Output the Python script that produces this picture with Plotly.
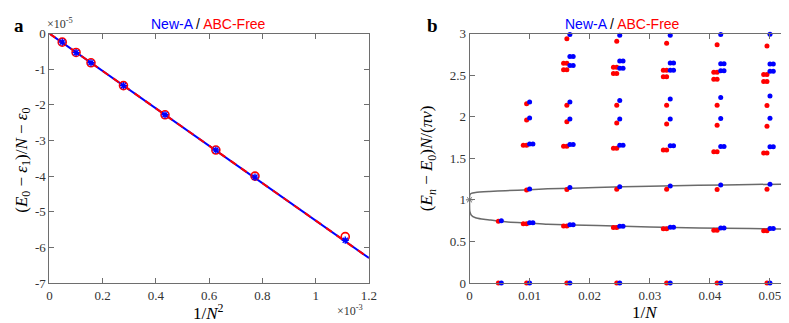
import plotly.graph_objects as go

# ---------------- Panel a data (x in 1e-3, y in 1e-5) ----------------
inv_N2 = [0.048, 0.100, 0.156, 0.278, 0.434, 0.625, 0.772, 1.111]
gap_newA = [-0.24, -0.535, -0.82, -1.46, -2.28, -3.27, -4.03, -5.80]
gap_abc = [-0.24, -0.53, -0.82, -1.46, -2.28, -3.27, -4.00, -5.70]
fit_x = [0.0, 1.2]
fit_y = [0.0, -6.30]
a_xticks = [0, 0.2, 0.4, 0.6, 0.8, 1.0, 1.2]
a_xticktext = ["0", "0.2", "0.4", "0.6", "0.8", "1", "1.2"]
a_yticks = [-7, -6, -5, -4, -3, -2, -1, 0]
a_yticktext = ["-7", "-6", "-5", "-4", "-3", "-2", "-1", "0"]

# ---------------- Panel b data ----------------
newA_x = [0.0053, 0.0100, 0.0167, 0.0250, 0.0334, 0.0418, 0.0500]
abc_x = [0.0048, 0.0095, 0.0162, 0.0245, 0.0328, 0.0412, 0.0495]
newA_single = [
    [0.0],
    [0.0, 1.130, 1.984, 2.176],
    [0.0, 1.147, 1.973, 2.176, 2.988],
    [0.0, 1.158, 1.973, 2.196, 2.981],
    [0.0, 1.165, 1.973, 2.212, 2.981],
    [0.0, 1.177, 1.977, 2.231, 2.988],
    [0.0, 1.188, 1.981, 2.250, 2.993],
]
newA_double = [
    [],
    [0.723, 1.672],
    [0.700, 1.666, 2.615, 2.723],
    [0.681, 1.657, 2.584, 2.669],
    [0.669, 1.650, 2.558, 2.645],
    [0.662, 1.643, 2.554, 2.638],
    [0.654, 1.638, 2.546, 2.635],
]
newA_extra = [[0.747], [], [], [], [], [], []]
abc_single = [
    [0.0],
    [0.0, 1.119, 1.961, 2.157],
    [0.0, 1.124, 1.938, 2.139, 2.938],
    [0.0, 1.127, 1.923, 2.139, 2.907],
    [0.0, 1.127, 1.912, 2.139, 2.884],
    [0.0, 1.124, 1.896, 2.139, 2.866],
    [0.0, 1.127, 1.885, 2.134, 2.850],
]
abc_double = [
    [],
    [0.712, 1.657],
    [0.685, 1.646, 2.566, 2.642],
    [0.666, 1.620, 2.519, 2.596],
    [0.651, 1.600, 2.481, 2.558],
    [0.635, 1.577, 2.450, 2.535],
    [0.628, 1.562, 2.423, 2.508],
]
abc_extra = [[0.743], [], [], [], [], [], []]

upper_x = [0.0, 0.0, 0.00005, 0.0003, 0.001, 0.0033, 0.006, 0.010, 0.013, 0.021, 0.030, 0.038, 0.047, 0.053]
upper_y = [1.0, 1.03, 1.060, 1.078, 1.088, 1.100, 1.110, 1.122, 1.132, 1.148, 1.164, 1.175, 1.184, 1.190]
lower_x = [0.0, 0.0, 0.00005, 0.0003, 0.001, 0.002, 0.0033, 0.006, 0.010, 0.013, 0.0213, 0.030, 0.0382, 0.0467, 0.053]
lower_y = [1.0, 0.95, 0.860, 0.815, 0.785, 0.770, 0.758, 0.735, 0.719, 0.705, 0.690, 0.673, 0.662, 0.654, 0.649]
limit_x = [0.0]
limit_y = [1.0]
b_xticks = [0, 0.01, 0.02, 0.03, 0.04, 0.05]
b_xticktext = ["0", "0.01", "0.02", "0.03", "0.04", "0.05"]
b_yticks = [0, 0.5, 1, 1.5, 2, 2.5, 3]
b_yticktext = ["0", "0.5", "1", "1.5", "2", "2.5", "3"]

W, H = 789, 323
PAIR_DX = 0.00055
SERIF = "Liberation Serif"
SANS = "Liberation Sans"
BLUE = "#0000ff"
RED = "#ff0000"
AXC = "#6e6e6e"


def px(x):
    return x / W


def py(y):
    return 1 - y / H


def build(xs, singles, doubles, extras, side):
    X, Y = [], []
    for x0, s, d, e in zip(xs, singles, doubles, extras):
        for v in s + e:
            X.append(x0)
            Y.append(v)
        for v in d:
            X += [x0, x0 + side * PAIR_DX]
            Y += [v, v]
    return X, Y


fig = go.Figure()

# panel a
fig.add_trace(go.Scatter(x=fit_x, y=fit_y, mode="lines", line=dict(color=BLUE, width=2),
                         xaxis="x", yaxis="y", showlegend=False, hoverinfo="skip"))
fig.add_trace(go.Scatter(x=fit_x, y=fit_y, mode="lines", line=dict(color=RED, width=2, dash="7px,6px"),
                         xaxis="x", yaxis="y", showlegend=False, hoverinfo="skip"))
fig.add_trace(go.Scatter(x=inv_N2, y=gap_abc, mode="markers",
                         marker=dict(symbol="circle-open", size=8, color=RED, line=dict(width=1.6, color=RED)),
                         xaxis="x", yaxis="y", showlegend=False))
fig.add_trace(go.Scatter(x=inv_N2, y=gap_newA, mode="markers",
                         marker=dict(symbol="asterisk-open", size=6, color=BLUE, line=dict(width=1.4, color=BLUE)),
                         xaxis="x", yaxis="y", showlegend=False))

# panel b
fig.add_trace(go.Scatter(x=upper_x, y=upper_y, mode="lines", line=dict(color="#6a6a6a", width=1.5, shape="spline", smoothing=0.6),
                         xaxis="x2", yaxis="y2", showlegend=False, hoverinfo="skip"))
fig.add_trace(go.Scatter(x=lower_x, y=lower_y, mode="lines", line=dict(color="#6a6a6a", width=1.5, shape="spline", smoothing=0.6),
                         xaxis="x2", yaxis="y2", showlegend=False, hoverinfo="skip"))
fig.add_trace(go.Scatter(x=limit_x, y=limit_y, mode="markers",
                         marker=dict(symbol="asterisk-open", size=6, color="#6a6a6a", line=dict(width=1, color="#6a6a6a")),
                         xaxis="x2", yaxis="y2", showlegend=False, cliponaxis=False))
rx, ry = build(abc_x, abc_single, abc_double, abc_extra, -1)
bx, by = build(newA_x, newA_single, newA_double, newA_extra, +1)
fig.add_trace(go.Scatter(x=rx, y=ry, mode="markers", marker=dict(size=5, color=RED),
                         xaxis="x2", yaxis="y2", showlegend=False, cliponaxis=False))
fig.add_trace(go.Scatter(x=bx, y=by, mode="markers", marker=dict(size=5, color=BLUE),
                         xaxis="x2", yaxis="y2", showlegend=False, cliponaxis=False))

axis_common = dict(showline=True, linecolor=AXC, linewidth=1, mirror="ticks", ticks="inside",
                   ticklen=5, tickcolor=AXC, showgrid=False, zeroline=False,
                   tickfont=dict(family=SERIF, size=13, color="#333333"))

ydom = [1 - 281 / H, 1 - 19.5 / H]
fig.update_layout(
    width=W, height=H, margin=dict(l=0, r=0, t=0, b=0),
    paper_bgcolor="white", plot_bgcolor="white",
    xaxis=dict(domain=[px(39), px(363)], range=[0, 1.2], tickvals=a_xticks, ticktext=a_xticktext,
               anchor="y", **axis_common),
    yaxis=dict(domain=ydom, range=[-7, 0], tickvals=a_yticks, ticktext=a_yticktext,
               anchor="x", **axis_common),
    xaxis2=dict(domain=[px(465), px(788)], range=[0, 0.053], tickvals=b_xticks, ticktext=b_xticktext,
                anchor="y2", **axis_common),
    yaxis2=dict(domain=ydom, range=[0, 3], tickvals=b_yticks, ticktext=b_yticktext,
                anchor="x2", **axis_common),
)

title_html = "<span style='color:#0000ff'>New-A</span> / <span style='color:#ff0000'>ABC-Free</span>"
ann = [
    dict(x=px(200), y=py(9), text=title_html, font=dict(family=SANS, size=14, color="black")),
    dict(x=px(620), y=py(9), text=title_html, font=dict(family=SANS, size=14, color="black")),
    dict(x=px(8), y=py(11), text="<b>a</b>", font=dict(family=SERIF, size=19, color="black")),
    dict(x=px(427), y=py(11), text="<b>b</b>", font=dict(family=SERIF, size=19, color="black")),
    dict(x=px(50), y=py(9), text="×10<sup>-5</sup>", font=dict(family=SERIF, size=12, color="#333333")),
    dict(x=px(344), y=py(310), text="×10<sup>-3</sup>", font=dict(family=SERIF, size=12, color="#333333")),
    dict(x=px(200), y=py(311), text="1/<i>N</i><sup>2</sup>", font=dict(family=SERIF, size=17, color="black")),
    dict(x=px(643), y=py(312), text="1/<i>N</i>", font=dict(family=SERIF, size=17, color="black")),
    dict(x=px(12), y=py(152), textangle=-90,
         text="(<i>E</i><sub>0</sub> − <i>ε</i><sub>1</sub>)/<i>N</i> − <i>ε</i><sub>0</sub>",
         font=dict(family=SERIF, size=17, color="black")),
    dict(x=px(423), y=py(150), textangle=-90,
         text="(<i>E<sub>n</sub></i> − <i>E</i><sub>0</sub>)<i>N</i>/(<i>πv</i>)",
         font=dict(family=SERIF, size=17, color="black")),
]
for a in ann:
    a.update(xref="paper", yref="paper", showarrow=False, xanchor="center", yanchor="middle")
fig.update_layout(annotations=ann)

fig.write_html("out.html")
